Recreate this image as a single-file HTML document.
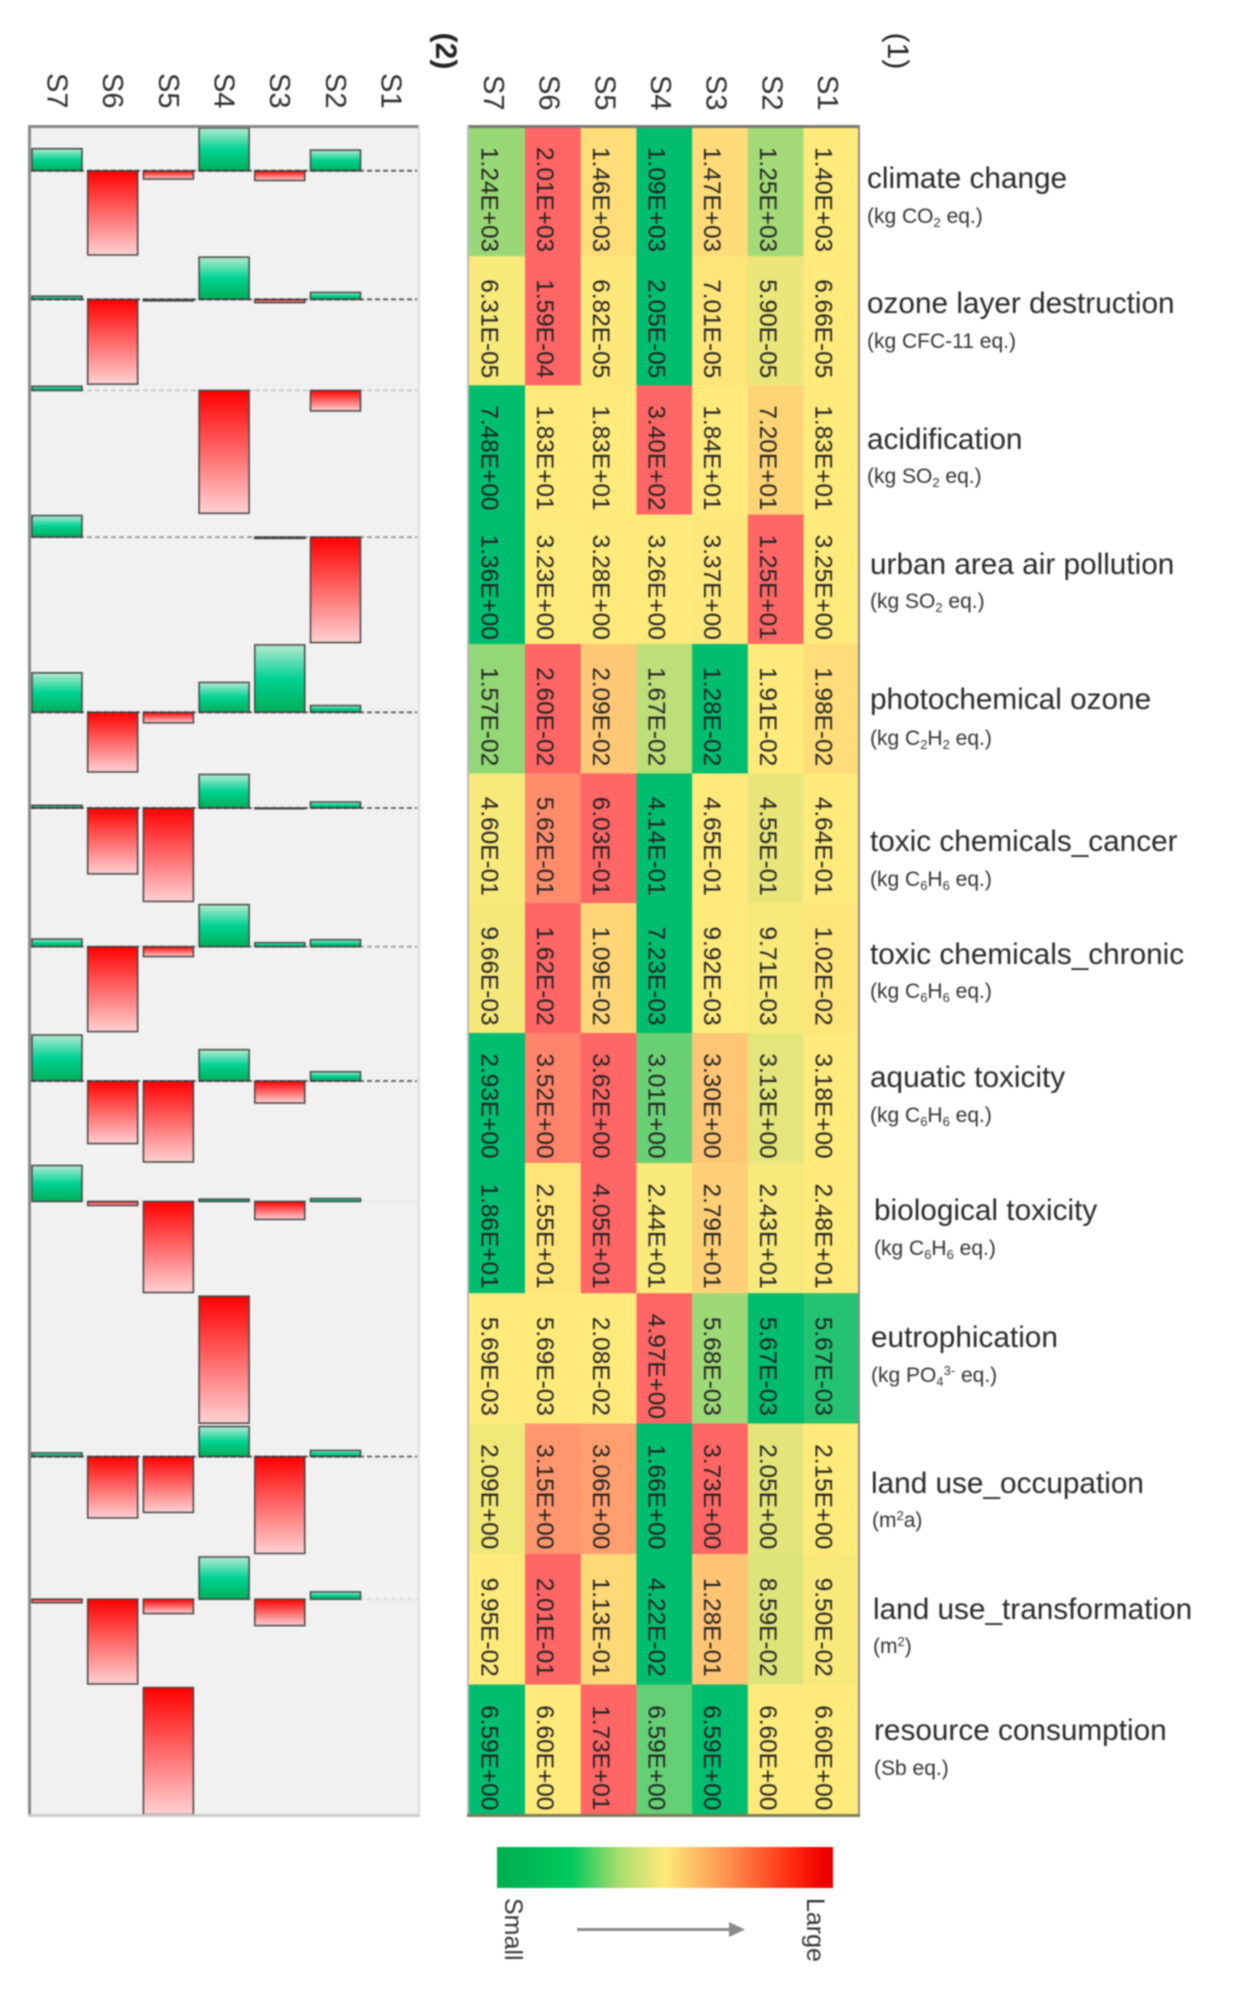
<!DOCTYPE html>
<html lang="en">
<head>
<meta charset="utf-8">
<title>Impact categories heat map and difference bars</title>
<style>
  html, body { margin: 0; padding: 0; background: #fff; }
  #chart { display: block; width: 1259px; height: 2000px; filter: blur(0.9px); font-family: "Liberation Sans", Arial, sans-serif; }
  .main-label { font-size: 29.75px; fill: #2a2a2a; }
  .sub-label { font-size: 21px; fill: #333; }
  .sub-label tspan.s { font-size: 13px; }
  .cell-value { font-size: 24.4px; fill: #222; }
  .col-label { font-size: 29px; fill: #2e2e2e; }
</style>
</head>
<body>
<svg id="chart" xmlns="http://www.w3.org/2000/svg" width="1259" height="2000" viewBox="0 0 1259 2000">
  <defs>
    <linearGradient id="grad-pos" x1="0" y1="0" x2="0" y2="1">
      <stop offset="0" stop-color="#b4ead2"/>
      <stop offset="0.5" stop-color="#00d292"/>
      <stop offset="1" stop-color="#00ae58"/>
    </linearGradient>
    <linearGradient id="grad-neg" x1="0" y1="0" x2="0" y2="1">
      <stop offset="0" stop-color="#ff0000"/>
      <stop offset="1" stop-color="#ffd0d2"/>
    </linearGradient>
    <linearGradient id="grad-scale" x1="0" y1="0" x2="1" y2="0">
      <stop offset="0" stop-color="#00ad4c"/>
      <stop offset="0.22" stop-color="#00c95d"/>
      <stop offset="0.36" stop-color="#a6dc6e"/>
      <stop offset="0.5" stop-color="#ffe97a"/>
      <stop offset="0.7" stop-color="#ff8a4a"/>
      <stop offset="0.88" stop-color="#ff2a10"/>
      <stop offset="0.97" stop-color="#ee0000"/>
    </linearGradient>
  </defs>

  <rect x="29" y="126" width="390" height="1689" fill="#f1f1f1"/>
  <g id="bars"></g>
  <g id="zero-lines"></g>
  <g>
    <rect x="28" y="125" width="391" height="3" fill="#858585"/>
    <rect x="28" y="125" width="3" height="1691" fill="#8a8a8a"/>
    <rect x="418" y="125" width="2" height="1691" fill="#dcdcdc"/>
    <rect x="28" y="1814" width="392" height="3" fill="#cacaca"/>
  </g>

  <g id="heat-cells"></g>
  <g id="heat-values"></g>
  <g>
    <rect x="468" y="125" width="392" height="3" fill="#767676"/>
    <rect x="467" y="125" width="2" height="1691" fill="#bcbcbc"/>
    <rect x="858" y="125" width="2" height="1691" fill="#8a8a8a"/>
    <rect x="467" y="1814" width="393" height="3" fill="#7d7d55"/>
  </g>

  <g id="col-labels"></g>

  <text x="436" y="51" text-anchor="middle" transform="rotate(90 436 51)" font-size="30" font-weight="bold" fill="#222">(2)</text>
  <text x="888" y="51" text-anchor="middle" transform="rotate(90 888 51)" font-size="30" fill="#222">(1)</text>

  <g>
    <text class="main-label" x="867" y="188">climate change</text>
    <text class="sub-label" x="867" y="223">(kg CO<tspan class="s" dy="4">2</tspan><tspan dy="-4"> eq.)</tspan></text>
    <text class="main-label" x="867" y="313">ozone layer destruction</text>
    <text class="sub-label" x="867" y="348">(kg CFC-11 eq.)</text>
    <text class="main-label" x="867" y="449">acidification</text>
    <text class="sub-label" x="867" y="483">(kg SO<tspan class="s" dy="4">2</tspan><tspan dy="-4"> eq.)</tspan></text>
    <text class="main-label" x="870" y="574">urban area air pollution</text>
    <text class="sub-label" x="870" y="608">(kg SO<tspan class="s" dy="4">2</tspan><tspan dy="-4"> eq.)</tspan></text>
    <text class="main-label" x="870" y="709">photochemical ozone</text>
    <text class="sub-label" x="870" y="745">(kg C<tspan class="s" dy="4">2</tspan><tspan dy="-4">H</tspan><tspan class="s" dy="4">2</tspan><tspan dy="-4"> eq.)</tspan></text>
    <text class="main-label" x="870" y="851">toxic chemicals_cancer</text>
    <text class="sub-label" x="870" y="886">(kg C<tspan class="s" dy="4">6</tspan><tspan dy="-4">H</tspan><tspan class="s" dy="4">6</tspan><tspan dy="-4"> eq.)</tspan></text>
    <text class="main-label" x="870" y="964">toxic chemicals_chronic</text>
    <text class="sub-label" x="870" y="998">(kg C<tspan class="s" dy="4">6</tspan><tspan dy="-4">H</tspan><tspan class="s" dy="4">6</tspan><tspan dy="-4"> eq.)</tspan></text>
    <text class="main-label" x="870" y="1087">aquatic toxicity</text>
    <text class="sub-label" x="870" y="1122">(kg C<tspan class="s" dy="4">6</tspan><tspan dy="-4">H</tspan><tspan class="s" dy="4">6</tspan><tspan dy="-4"> eq.)</tspan></text>
    <text class="main-label" x="874" y="1220">biological toxicity</text>
    <text class="sub-label" x="874" y="1255">(kg C<tspan class="s" dy="4">6</tspan><tspan dy="-4">H</tspan><tspan class="s" dy="4">6</tspan><tspan dy="-4"> eq.)</tspan></text>
    <text class="main-label" x="871" y="1347">eutrophication</text>
    <text class="sub-label" x="871" y="1382">(kg PO<tspan class="s" dy="4">4</tspan><tspan class="s" dy="-11">3-</tspan><tspan dy="7"> eq.)</tspan></text>
    <text class="main-label" x="871" y="1493">land use_occupation</text>
    <text class="sub-label" x="872" y="1527">(m<tspan class="s" dy="-7">2</tspan><tspan dy="7">a)</tspan></text>
    <text class="main-label" x="873" y="1619">land use_transformation</text>
    <text class="sub-label" x="873" y="1653">(m<tspan class="s" dy="-7">2</tspan><tspan dy="7">)</tspan></text>
    <text class="main-label" x="874" y="1740">resource consumption</text>
    <text class="sub-label" x="874" y="1775">(Sb eq.)</text>
  </g>

  <g>
    <rect x="497" y="1847" width="336" height="41" fill="url(#grad-scale)"/>
    <text x="505" y="1898" transform="rotate(90 505 1898)" font-size="25" fill="#333">Small</text>
    <text x="807" y="1898" transform="rotate(90 807 1898)" font-size="25" fill="#333">Large</text>
    <line x1="577" y1="1929.5" x2="732" y2="1929.5" stroke="#8a8a8a" stroke-width="3"/>
    <polygon points="729,1922 745,1929.5 729,1937" fill="#8a8a8a"/>
  </g>
</svg>

<script>
// Scenario names, in the order of the value arrays below.
const scenarios = ['S1', 'S2', 'S3', 'S4', 'S5', 'S6', 'S7'];
const categories = ['climate-change', 'ozone-layer-destruction', 'acidification', 'urban-area-air-pollution', 'photochemical-ozone', 'toxic-chemicals-cancer', 'toxic-chemicals-chronic', 'aquatic-toxicity', 'biological-toxicity', 'eutrophication', 'land-use-occupation', 'land-use-transformation', 'resource-consumption'];

// Indicator values per category, S1..S7.
const climateChange = [1.40e3, 1.25e3, 1.47e3, 1.09e3, 1.46e3, 2.01e3, 1.24e3];
const ozoneLayer = [6.66e-5, 5.90e-5, 7.01e-5, 2.05e-5, 6.82e-5, 1.59e-4, 6.31e-5];
const acidification = [1.83e1, 7.20e1, 1.84e1, 3.40e2, 1.83e1, 1.83e1, 7.48];
const urbanAir = [3.25, 1.25e1, 3.37, 3.26, 3.28, 3.23, 1.36];
const photochemical = [1.98e-2, 1.91e-2, 1.28e-2, 1.67e-2, 2.09e-2, 2.60e-2, 1.57e-2];
const toxicCancer = [4.64e-1, 4.55e-1, 4.65e-1, 4.14e-1, 6.03e-1, 5.62e-1, 4.60e-1];
const toxicChronic = [1.02e-2, 9.71e-3, 9.92e-3, 7.23e-3, 1.09e-2, 1.62e-2, 9.66e-3];
const aquaticToxicity = [3.18, 3.13, 3.30, 3.01, 3.62, 3.52, 2.93];
const biologicalToxicity = [2.48e1, 2.43e1, 2.79e1, 2.44e1, 4.05e1, 2.55e1, 1.86e1];
const eutrophication = [5.672e-3, 5.67e-3, 5.68e-3, 4.97, 2.08e-2, 5.69e-3, 5.69e-3];
const landOccupation = [2.15, 2.05, 3.73, 1.66, 3.06, 3.15, 2.09];
const landTransformation = [9.50e-2, 8.59e-2, 1.28e-1, 4.22e-2, 1.13e-1, 2.01e-1, 9.95e-2];
const resourceConsumption = [6.60, 6.60, 6.59, 6.593, 1.73e1, 6.60, 6.59];

const impactRows = [climateChange, ozoneLayer, acidification, urbanAir, photochemical, toxicCancer, toxicChronic, aquaticToxicity, biologicalToxicity, eutrophication, landOccupation, landTransformation, resourceConsumption];

// Visual tone of each dashed zero line (style only).
const zeroLineTone = [0.75, 0.75, 0.2, 0.45, 0.7, 0.7, 0.4, 0.7, 0.05, 0, 0.7, 0.1, 0];

const SVG_NS = 'http://www.w3.org/2000/svg';
const TOP = 127, ROW_H = 129.85, BAR_SPAN = 127;
const HEAT_LEFT = 469, BAR_LEFT = 29, COL_W = 55.7;

// Axis functions: S1 is the right-most column, the first category the top row.
// The source figure's rows sag by a few pixels mid-way, hence the small bow term.
function colX(left, s) { return left + (scenarios.length - 1 - s) * COL_W; }
function rowY(r) { return TOP + r * ROW_H - 3 * Math.sin(Math.PI * r / impactRows.length); }
// The bar panel's rows sit slightly lower than the heatmap's towards the bottom.
function barRowY(r) { return rowY(r) + 1 + Math.min(2, Math.max(0, r - 5) * 0.5); }

function median(values) {
  const sorted = values.slice().sort(function (a, b) { return a - b; });
  return sorted[Math.floor(sorted.length / 2)];
}
function mix(a, b, t) {
  const c = [0, 1, 2].map(function (i) { return Math.round(a[i] + (b[i] - a[i]) * t); });
  return 'rgb(' + c.join(',') + ')';
}
const LOW = [0, 189, 112], MID = [255, 234, 123], HIGH = [255, 102, 102];
function cellColor(v, values) {
  const med = median(values), lo = Math.min.apply(null, values), hi = Math.max.apply(null, values);
  if (v <= med) {
    const t = med === lo ? 0 : (med - v) / (med - lo);
    return mix(MID, LOW, Math.pow(t, 1.4));
  }
  return mix(MID, HIGH, (v - med) / (hi - med));
}
function formatValue(v) {
  const parts = v.toExponential(2).split('e');
  const sign = parts[1].charAt(0);
  const digits = parts[1].slice(1).padStart(2, '0');
  return parts[0] + 'E' + sign + digits;
}
function make(tag, attrs, parent) {
  const node = document.createElementNS(SVG_NS, tag);
  Object.keys(attrs).forEach(function (k) { node.setAttribute(k, attrs[k]); });
  parent.appendChild(node);
  return node;
}

const cellGroup = document.getElementById('heat-cells');
const valueGroup = document.getElementById('heat-values');
const barGroup = document.getElementById('bars');
const lineGroup = document.getElementById('zero-lines');
const labelGroup = document.getElementById('col-labels');

impactRows.forEach(function (values, r) {
  const base = values[0];
  const lo = Math.min.apply(null, values), hi = Math.max.apply(null, values);
  const pxPerUnit = BAR_SPAN / (hi - lo);
  const zeroY = barRowY(r) + (base - lo) * pxPerUnit;
  const rowH = rowY(r + 1) - rowY(r);

  values.forEach(function (v, s) {
    // Heatmap cell
    const cell = make('rect', {
      x: colX(HEAT_LEFT, s), y: rowY(r), width: COL_W + 0.3, height: rowH + 0.3,
      fill: cellColor(v, values)
    }, cellGroup);
    
    

    // Printed value
    const tx = colX(HEAT_LEFT, s) + COL_W / 2 - 15.5;
    const ty = rowY(r) + rowH / 2 + 8;
    const label = make('text', {
      x: tx, y: ty, 'text-anchor': 'middle', 'class': 'cell-value',
      transform: 'rotate(90 ' + tx + ' ' + ty + ')'
    }, valueGroup);
    label.textContent = formatValue(v);
    
    

    // Difference bar relative to S1
    const diff = (base - v) * pxPerUnit;
    if (Math.abs(diff) >= 0.5) {
      const bar = make('rect', {
        x: colX(BAR_LEFT, s) + 3,
        y: diff > 0 ? zeroY - diff : zeroY,
        width: 50,
        height: Math.abs(diff),
        fill: diff > 0 ? 'url(#grad-pos)' : 'url(#grad-neg)',
        stroke: '#444',
        'stroke-width': 1.5
      }, barGroup);
      
      
    }
  });

  // Dashed zero line for the row
  if (zeroLineTone[r] > 0) {
    const zero = make('line', {
      x1: BAR_LEFT + 2, x2: BAR_LEFT + 388, y1: zeroY, y2: zeroY,
      stroke: '#333', 'stroke-width': 2, 'stroke-dasharray': '5 3', opacity: zeroLineTone[r]
    }, lineGroup);
    
    
  }
});

// Scenario column labels above both panels
scenarios.forEach(function (name, s) {
  const barX = colX(BAR_LEFT, s) + COL_W / 2 - 9.5;
  const barText = make('text', {
    x: barX, y: 73, 'class': 'col-label', transform: 'rotate(90 ' + barX + ' 73)'
  }, labelGroup);
  barText.textContent = name;
  
  

  const heatX = colX(HEAT_LEFT, s) + COL_W / 2 - 13;
  const heatText = make('text', {
    x: heatX, y: 75, 'class': 'col-label', transform: 'rotate(90 ' + heatX + ' 75)'
  }, labelGroup);
  heatText.textContent = name;
  
  
});
</script>
</body>
</html>
